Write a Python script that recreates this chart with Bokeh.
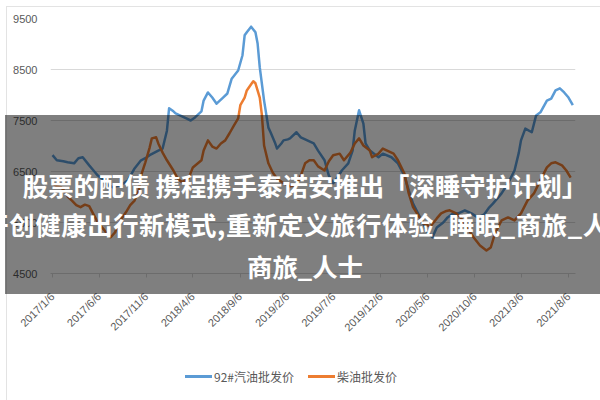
import math
import pandas as pd
from bokeh.plotting import figure
from bokeh.layouts import column
from bokeh.models import (Range1d, FixedTicker, CustomJSTickFormatter, Div,
                          BasicTickFormatter)
from bokeh.embed import file_html
from bokeh.resources import INLINE

# ---------------- data ----------------
START = "2017-01-06"          # first record; weeks are counted from here
X_START = "2016-12-30 12:00"
X_END = "2021-08-28 17:00"
TICK_DATES = ["2017-01-06", "2017-06-06", "2017-11-06", "2018-04-06", "2018-09-06",
              "2019-02-06", "2019-07-06", "2019-12-06", "2020-05-06", "2020-10-06",
              "2021-03-06", "2021-08-06"]
Y_TICKS = [4500, 5500, 6500, 7500, 8500, 9500]
SERIES_NAMES = ["92#汽油批发价", "柴油批发价"]
SERIES_COLORS = ["#5b9bd5", "#ed7d31"]

GAS_WEEKS = [0, 2, 5, 7, 10, 12, 14, 17, 19, 21,
             24, 25, 28, 31, 33, 35, 38, 41, 43, 45,
             49, 51, 53, 54, 56, 57, 59, 62, 64, 66,
             69, 70, 72, 74, 76, 79, 81, 83, 86, 88,
             89, 90, 92, 94, 95, 96, 98, 100, 101, 103,
             104, 106, 107, 109, 110, 113, 115, 117, 119, 121,
             123, 126, 128, 130, 132, 134, 137, 139, 140, 142,
             144, 145, 147, 151, 153, 157, 160, 163, 165, 167,
             171, 174, 176, 178, 181, 183, 185, 188, 191, 194,
             197, 200, 202, 204, 208, 211, 214, 216, 217, 219,
             222, 224, 226, 229, 231, 233, 235, 237, 239, 241]
GAS_PRICE = [6820, 6720, 6700, 6680, 6660, 6760, 6780, 6620, 6520, 6420,
             6330, 6250, 6190, 6230, 6270, 6330, 6560, 6720, 6760, 6820,
             6910, 6950, 7300, 7740, 7680, 7640, 7600, 7540, 7500, 7560,
             7680, 7890, 8050, 7950, 7830, 7950, 8030, 8320, 8480, 8780,
             9170, 9230, 9340, 9230, 9010, 8540, 7890, 7360, 7270, 7070,
             6950, 7050, 7110, 7130, 7150, 7270, 7170, 7130, 7090, 7050,
             6910, 6720, 6420, 6270, 6380, 6520, 6660, 6910, 7300, 7700,
             7440, 7050, 6910, 6780, 6850, 6780, 6660, 6420, 6130, 5870,
             5540, 5290, 5210, 5400, 5500, 5600, 5660, 5680, 5740, 5680,
             5600, 5660, 5780, 5870, 6070, 6270, 6520, 6870, 7110, 7340,
             7270, 7600, 7660, 7890, 7930, 8090, 8130, 8050, 7950, 7800]

DIESEL_WEEKS = [0, 2, 4, 6, 7, 9, 11, 13, 15, 17,
                19, 21, 24, 26, 27, 29, 30, 32, 34, 36,
                38, 40, 41, 43, 45, 46, 48, 49, 51, 53,
                56, 58, 60, 63, 65, 69, 70, 72, 74, 76,
                78, 80, 82, 84, 86, 87, 89, 90, 92, 93,
                94, 96, 97, 98, 100, 102, 104, 107, 110, 113,
                115, 117, 119, 121, 123, 126, 128, 130, 133, 135,
                138, 140, 142, 144, 147, 148, 151, 153, 155, 158,
                160, 163, 165, 167, 170, 172, 175, 178, 180, 182,
                184, 187, 189, 192, 195, 198, 201, 203, 205, 208,
                211, 214, 217, 220, 223, 226, 229, 231, 233, 236,
                238, 240]
DIESEL_PRICE = [6270, 6210, 6190, 6090, 6010, 5930, 5840, 5800, 5850, 5820,
                5660, 5500, 5350, 5230, 5210, 5310, 5420, 5580, 5700, 5840,
                5930, 6130, 6420, 6680, 6970, 7150, 7170, 7050, 6870, 6720,
                6520, 6360, 6290, 6360, 6580, 6720, 6910, 7110, 6990, 6950,
                7050, 7110, 7250, 7400, 7540, 7800, 7950, 8090, 8210, 8270,
                8230, 7950, 7600, 7010, 6660, 6480, 6360, 6270, 6210, 6230,
                6420, 6660, 6720, 6720, 6600, 6520, 6700, 6820, 6850, 6720,
                6870, 7050, 7150, 7010, 6910, 6780, 6850, 6950, 6910, 6850,
                6720, 6460, 6070, 5800, 5600, 5480, 5420, 5580, 5680, 5720,
                5740, 5680, 5600, 5400, 5210, 5050, 4950, 5010, 5290, 5540,
                5600, 5540, 5680, 5930, 6070, 6330, 6580, 6660, 6680, 6620,
                6520, 6380]

BANNER_LINES = ["股票的配债 携程携手泰诺安推出「深睡守护计划」",
                "开创健康出行新模式,重新定义旅行体验_睡眠_商旅_人士",
                "商旅_人士"]

# ---------------- build ----------------
start = pd.Timestamp(START)
gas_dates = [start + pd.Timedelta(days=7 * w) for w in GAS_WEEKS]
diesel_dates = [start + pd.Timedelta(days=7 * w) for w in DIESEL_WEEKS]
tick_ms = [pd.Timestamp(d).value / 1e6 for d in TICK_DATES]

p = figure(width=600, height=400, output_backend="svg", toolbar_location=None,
           x_axis_type="datetime",
           x_range=Range1d(pd.Timestamp(X_START), pd.Timestamp(X_END)),
           y_range=Range1d(Y_TICKS[0], Y_TICKS[-1]),
           min_border_left=50, min_border_right=25, min_border_top=18,
           min_border_bottom=127)
p.outline_line_color = None
p.background_fill_color = "white"
p.border_fill_color = "white"

p.line(gas_dates, GAS_PRICE, line_color=SERIES_COLORS[0], line_width=2.5,
       line_join="round")
p.line(diesel_dates, DIESEL_PRICE, line_color=SERIES_COLORS[1], line_width=2.5,
       line_join="round")

# axes
yt = FixedTicker(ticks=Y_TICKS)
p.yaxis.ticker = yt
p.ygrid.ticker = yt
p.yaxis.formatter = BasicTickFormatter(use_scientific=False)
p.yaxis.axis_line_color = None
p.yaxis.major_tick_line_color = None
p.yaxis.minor_tick_line_color = None
p.yaxis.major_label_standoff = 7
p.yaxis.major_label_text_font = "Liberation Sans"
p.yaxis.major_label_text_font_size = "11px"
p.yaxis.major_label_text_color = "#595959"
p.ygrid.grid_line_color = "#d9d9d9"
p.xgrid.visible = False

p.xaxis.ticker = FixedTicker(ticks=tick_ms)
p.xaxis.formatter = CustomJSTickFormatter(code="""
const d = new Date(tick);
return d.getUTCFullYear() + "/" + (d.getUTCMonth() + 1) + "/" + d.getUTCDate();
""")
p.xaxis.major_label_orientation = math.pi / 4
p.xaxis.major_label_text_font = "Liberation Sans"
p.xaxis.major_label_text_font_size = "11px"
p.xaxis.major_label_text_color = "#595959"
p.xaxis.axis_line_color = "#d9d9d9"
p.xaxis.major_tick_line_color = "#d9d9d9"
p.xaxis.major_tick_in = 0
p.xaxis.major_tick_out = 4
p.xaxis.minor_tick_line_color = None
p.xaxis.major_label_standoff = 17

# ---------------- overlays (HTML, absolutely positioned over the chart) ----------------
legend_html = ""
for name, color, sw_left in zip(SERIES_NAMES, SERIES_COLORS, [180, 303]):
    legend_html += (
        f'<span style="position:absolute;left:{sw_left}px;top:8px;width:27px;height:3px;'
        f'background:{color};"></span>'
        f'<span style="position:absolute;left:{sw_left + 29}px;top:0px;line-height:19px;'
        f'font-family:\'Noto Sans CJK SC\';font-size:12px;color:#595959;white-space:nowrap;">'
        f'{name}</span>')
legend_div = Div(text=legend_html, width=600, height=19,
                 styles={"position": "absolute", "left": "0px", "top": "362px",
                         "width": "600px", "height": "19px", "z-index": "5"})

frame_div = Div(text="", width=596, height=395,
                styles={"position": "absolute", "left": "1px", "top": "1px",
                        "width": "596px", "height": "395px", "box-sizing": "border-box",
                        "border": "1px solid #e3e3e3", "pointer-events": "none",
                        "z-index": "4"})

banner_html = ""
for txt, cx, cy, ls in zip(BANNER_LINES, [300, 304, 300], [70, 109, 151], [0, 0.6, 0]):
    banner_html += (
        f'<div style="position:absolute;left:{cx}px;top:{cy}px;transform:translate(-50%,-50%);'
        f'white-space:nowrap;font-family:\'Noto Sans CJK SC\';font-weight:bold;'
        f'font-size:25.4px;letter-spacing:{ls}px;line-height:30px;color:#ffffff;">{txt}</div>')
banner_div = Div(text=banner_html, width=600, height=179,
                 styles={"position": "absolute", "left": "0px", "top": "110px",
                         "width": "600px", "height": "179px", "overflow": "hidden",
                         "background-color": "rgba(0,0,0,0.5)", "z-index": "10"})

layout = column(p, frame_div, legend_div, banner_div, styles={"position": "relative"})

open("out.html", "w").write(file_html(layout, INLINE, title="chart"))
